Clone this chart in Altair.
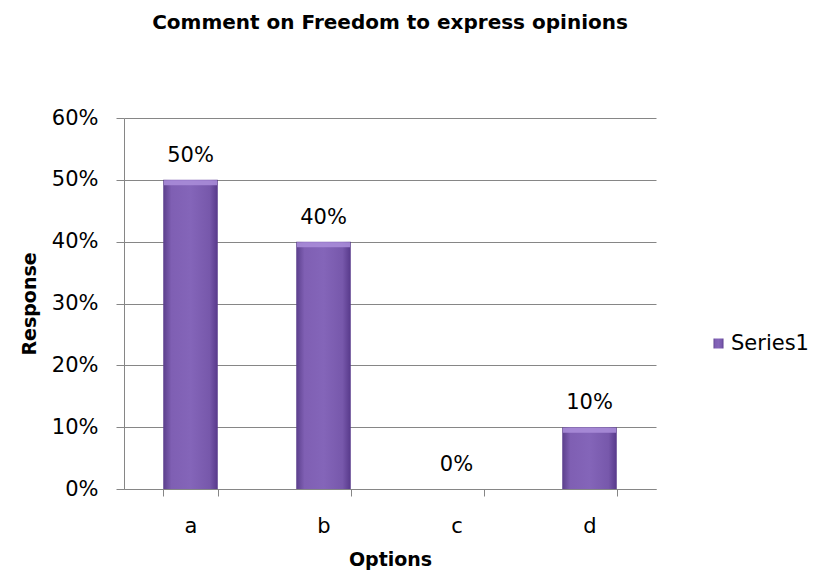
import altair as alt
import pandas as pd

options = ["a", "b", "c", "d"]
responses = [0.50, 0.40, 0.00, 0.10]
series = ["Series1", "Series1", "Series1", "Series1"]
labels = ["50%", "40%", "0%", "10%"]

df = pd.DataFrame({"Options": options, "Response": responses, "Series": series, "Label": labels})

FONT = "DejaVu Sans"

grad = alt.Gradient(
    gradient="linear",
    stops=[
        alt.GradientStop(color="#5B3F8C", offset=0),
        alt.GradientStop(color="#7F5FB3", offset=0.15),
        alt.GradientStop(color="#8465B9", offset=0.5),
        alt.GradientStop(color="#7758AB", offset=0.85),
        alt.GradientStop(color="#57398A", offset=1),
    ],
    x1=0, x2=1, y1=0, y2=0,
)

x_enc = alt.X(
    "Options:N",
    sort=options,
    scale=alt.Scale(paddingInner=0.59, paddingOuter=0.295),
    axis=alt.Axis(
        title="Options",
        labelAngle=0,
        labelFontSize=21,
        labelFont=FONT,
        labelColor="#000000",
        labelPadding=19,
        titleFontSize=19,
        titleFont=FONT,
        titleFontWeight="bold",
        titleColor="#000000",
        titlePadding=14,
        tickBand="extent",
        tickSize=7,
        tickColor="#868686",
        domainColor="#868686",
        grid=False,
    ),
)

bars = alt.Chart(df).mark_bar(color=grad).encode(
    x=x_enc,
    y=alt.Y(
        "Response:Q",
        scale=alt.Scale(domain=[0, 0.6]),
        axis=alt.Axis(
            title="Response",
            format=".0%",
            values=[0, 0.1, 0.2, 0.3, 0.4, 0.5, 0.6],
            labelFontSize=21,
            labelFont=FONT,
            labelColor="#000000",
            labelPadding=18,
            titleFontSize=19,
            titleFont=FONT,
            titleFontWeight="bold",
            titleColor="#000000",
            titlePadding=12,
            tickSize=8,
            tickColor="#868686",
            domainColor="#868686",
            gridColor="#868686",
            gridWidth=1,
        ),
    ),
    opacity=alt.Opacity(
        "Series:N",
        scale=alt.Scale(range=[1]),
        legend=alt.Legend(
            title=None,
            orient="none",
            legendX=584,
            legendY=215,
            padding=0,
            symbolType="square",
            symbolFillColor="#7E5EB3",
            symbolStrokeColor="#5E4391",
            symbolSize=100,
            labelOffset=2,
            labelFontSize=21,
            labelFont=FONT,
            labelColor="#000000",
        ),
    ),
)

# lighter top cap on each bar
caps = alt.Chart(df).transform_filter(alt.datum.Response > 0).mark_tick(
    color="#A98CD8", size=53, thickness=5, yOffset=3, opacity=0.9
).encode(
    x=alt.X("Options:N", sort=options),
    y=alt.Y("Response:Q"),
)

text = alt.Chart(df).mark_text(
    baseline="bottom", dy=-14, fontSize=21, font=FONT, color="#000000"
).encode(
    x=alt.X("Options:N", sort=options),
    y=alt.Y("Response:Q"),
    text="Label:N",
)

chart = (
    alt.layer(bars, caps, text)
    .properties(
        width=532,
        height=371,
        autosize=alt.AutoSizeParams(type="none"),
        padding={"left": 116, "top": 110, "right": 163, "bottom": 88},
        title=alt.TitleParams(
            "Comment on Freedom to express opinions",
            fontSize=20,
            font=FONT,
            fontWeight="bold",
            color="#000000",
            anchor="middle",
            offset=74,
        ),
    )
    .configure_view(stroke=None)
)

chart.save("out.html", embed_options={"renderer": "svg", "actions": False})
